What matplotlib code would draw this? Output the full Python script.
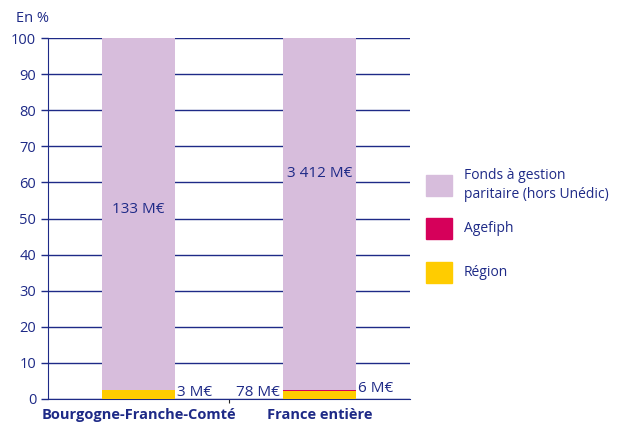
import numpy as np
import matplotlib.pyplot as plt
from matplotlib.patches import Rectangle

plt.rcParams['font.family'] = ['Open Sans', 'DejaVu Sans']

navy = '#1e2a87'

categories = ['Bourgogne-Franche-Comté', 'France entière']
series = ['Région', 'Agefiph', 'Fonds à gestion\nparitaire (hors Unédic)']
# shares in %
region = [2.4, 2.2]
agefiph = [0.0, 0.2]
fonds = [97.6, 97.6]
colors = ['#ffcc00', '#d6005a', '#d7bddc']

fig = plt.figure(figsize=(6.27, 4.24), dpi=100)
ax = fig.add_axes([48/627, 25/424, 362/627, 361/424])

x = np.arange(len(categories))
w = 0.4
bottom = np.zeros(len(categories))
for vals, c in zip([region, agefiph, fonds], colors):
    ax.bar(x, vals, w, bottom=bottom, color=c, zorder=3)
    bottom += np.array(vals)

ax.set_xlim(-0.5, 1.5)
ax.set_ylim(0, 100)
ax.set_yticks(np.arange(0, 101, 10))
ax.yaxis.grid(True, color=navy, linewidth=1.0, zorder=0)
ax.set_axisbelow(True)
for s in ['top', 'right']:
    ax.spines[s].set_visible(False)
ax.spines['left'].set_color(navy)
ax.spines['bottom'].set_color(navy)
ax.tick_params(axis='y', colors=navy, labelsize=10.5, length=5, width=1)
ax.set_xticks([0.5])
ax.set_xticklabels([])
ax.tick_params(axis='x', colors='#222222', length=3, width=0.8)
for xi, cat in zip(x, categories):
    ax.text(xi, -2.5, cat, ha='center', va='top', color=navy,
            fontsize=10.5, fontweight='bold')

# value labels
fs = 11
ax.text(0, 52.6, '133 M€', ha='center', va='center', color=navy, fontsize=fs, zorder=4)
ax.text(1, 62.6, '3 412 M€', ha='center', va='center', color=navy, fontsize=fs, zorder=4)
ax.text(0.215, 1.8, '3 M€', ha='left', va='center', color=navy, fontsize=fs, zorder=4)
ax.text(0.78, 1.8, '78 M€', ha='right', va='center', color=navy, fontsize=fs, zorder=4)
ax.text(1.21, 3.0, '6 M€', ha='left', va='center', color=navy, fontsize=fs, zorder=4)

fig.text(16/627, 1 - 18/424, 'En %', ha='left', va='center', color=navy, fontsize=10.5)

# legend
leg_y = [272, 228, 185]
for name, c, yy in zip(series, colors, leg_y):
    fig.add_artist(Rectangle((426/627, 1 - (yy + 11)/424), 26/627, 21/424,
                             transform=fig.transFigure, color=c))
    fig.text(464/627, 1 - yy/424, name, ha='left', va='center', color=navy,
             fontsize=10, linespacing=1.35)

fig.savefig('out.png', dpi=100)
